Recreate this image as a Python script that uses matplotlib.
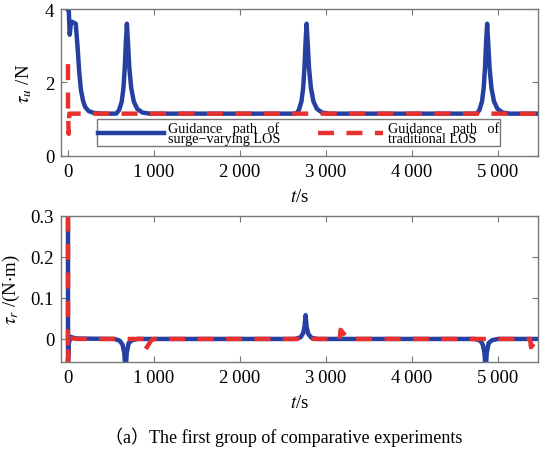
import matplotlib.pyplot as plt
import numpy as np

plt.rcParams['font.family'] = ['Liberation Serif', 'Noto Sans CJK SC', 'DejaVu Serif']
plt.rcParams['mathtext.fontset'] = 'stix'

# surge force tau_u (N), surge-varying LOS
t_u_sv = [0, 8, 20, 35, 50, 90, 110, 130, 150, 175, 200, 240, 300, 400,
          560, 595, 625, 645, 660, 673, 685, 697, 713, 735, 765, 805, 865, 950,
          2655, 2685, 2715, 2735, 2750, 2763, 2775, 2787, 2803, 2825, 2855, 2895, 2955, 3040,
          4755, 4785, 4815, 4835, 4850, 4863, 4875, 4887, 4903, 4925, 4955, 4995, 5055, 5140, 5470]
tau_u_sv = [4.0, 4.0, 3.3, 3.65, 3.65, 3.6, 3.0, 2.3, 1.8, 1.5, 1.33, 1.22, 1.17, 1.15,
            1.15, 1.25, 1.48, 1.85, 2.4, 3.1, 3.6, 3.1, 2.4, 1.85, 1.48, 1.28, 1.18, 1.15,
            1.15, 1.25, 1.48, 1.85, 2.4, 3.1, 3.6, 3.1, 2.4, 1.85, 1.48, 1.28, 1.18, 1.15,
            1.15, 1.25, 1.48, 1.85, 2.4, 3.1, 3.6, 3.1, 2.4, 1.85, 1.48, 1.28, 1.18, 1.15, 1.15]
# surge force tau_u (N), traditional LOS
t_u_tr = [0, 0, 8, 15, 25, 5470]
tau_u_tr = [2.5, 1.15, 0.6, 1.15, 1.15, 1.15]

# yaw moment tau_r (N*m), surge-varying LOS
t_r_sv = [0, 0, 10, 30, 60, 100, 540, 600, 635, 655, 669, 683, 705, 745, 810,
          2640, 2705, 2735, 2752, 2763, 2775, 2795, 2830, 2900,
          4730, 4795, 4825, 4845, 4857, 4870, 4892, 4932, 5000, 5470]
tau_r_sv = [0.3, -0.055, -0.01, 0.005, 0.003, 0.001, 0.0, -0.004, -0.014, -0.035, -0.08, -0.035, -0.01, -0.003, 0.0,
            0.0, 0.004, 0.014, 0.032, 0.058, 0.03, 0.012, 0.003, 0.0,
            0.0, -0.004, -0.014, -0.035, -0.08, -0.035, -0.01, -0.003, 0.0, 0.0]
# yaw moment tau_r (N*m), traditional LOS
t_r_tr = [0, 0, 10, 30, 100, 890, 900, 965, 1000,
          3160, 3170, 3235, 3270, 5375, 5385, 5425, 5470]
tau_r_tr = [0.3, -0.055, 0.0, 0.002, 0.0, 0.0, -0.026, -0.004, 0.0,
            0.0, 0.022, 0.006, 0.0, 0.0, -0.02, -0.01, -0.005]

x_ticks = [0, 1000, 2000, 3000, 4000, 5000]
x_labels = ['0', '1\u2009000', '2\u2009000', '3\u2009000', '4\u2009000', '5\u2009000']

blue = '#2540a0'
red = '#e8312f'
gray = '#777777'

fig = plt.figure(figsize=(5.41, 4.56), dpi=100)
ax1 = fig.add_axes([0.113, 0.656, 0.882, 0.322])
ax2 = fig.add_axes([0.113, 0.204, 0.882, 0.321])

l1, = ax1.plot(t_u_sv, tau_u_sv, color=blue, lw=3.2, solid_joinstyle='round')
l2, = ax1.plot(t_u_tr, tau_u_tr, color=red, lw=3.2, dashes=(3.6, 2.8))
ax2.plot(t_r_sv, tau_r_sv, color=blue, lw=3.2, solid_joinstyle='round')
ax2.plot(t_r_tr, tau_r_tr, color=red, lw=3.2, dashes=(3.6, 2.8))

ax1.set_ylim(0, 4)
ax1.set_yticks([0, 2, 4])
ax2.set_ylim(-0.056, 0.3)
ax2.set_yticks([0, 0.1, 0.2, 0.3])
ax2.set_yticklabels(['0', '0.1', '0.2', '0.3'])

for ax in (ax1, ax2):
    ax.set_xlim(-80, 5470)
    ax.set_xticks(x_ticks)
    ax.set_xticklabels(x_labels)
    ax.tick_params(direction='in', top=True, right=True, length=4, width=0.8,
                   color=gray, labelsize=13.5, pad=5)
    for s in ax.spines.values():
        s.set_color(gray)
        s.set_linewidth(1.0)
    ax.set_xlabel('$t$/s', fontsize=13.5, labelpad=6)

ax1.set_ylabel(r'$\tau_u$ /N', fontsize=13.5, labelpad=8)
ax2.set_ylabel(r'$\tau_r$ /(N$\cdot$m)', fontsize=13.5, labelpad=6)

leg = ax1.legend([l1, l2],
                 ['Guidance   path   of\nsurge\u2212varying LOS',
                  'Guidance   path   of\ntraditional LOS'],
                 ncol=2, loc='lower left', bbox_to_anchor=(0.075, 0.065, 0.845, 0.17),
                 mode='expand', fontsize=10.2, frameon=True, fancybox=False,
                 handlelength=4.6, handletextpad=0.3, columnspacing=0.5,
                 borderpad=0.1, labelspacing=0.0, borderaxespad=0)
leg.get_frame().set_edgecolor('#555555')
leg.get_frame().set_linewidth(1.0)
for txt in leg.get_texts():
    txt.set_linespacing(0.74)

fig.text(0.525, 0.042, '\uff08a\uff09The first group of comparative experiments',
         ha='center', va='center', fontsize=13)

fig.savefig('out.png', dpi=100)
